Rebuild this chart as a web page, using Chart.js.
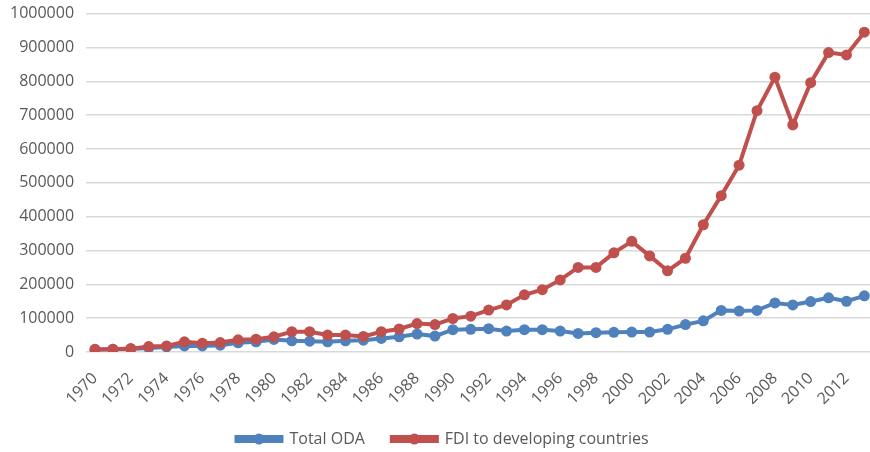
<!DOCTYPE html>
<html>
<head>
<meta charset="utf-8">
<script src="https://cdn.jsdelivr.net/npm/chart.js@4"></script>
<style>
  html, body { margin: 0; padding: 0; background: #fff; overflow: hidden; }
  #wrap { width: 889px; height: 465px; margin-left: -2px; margin-top: -8px; }
</style>
</head>
<body>
<div id="wrap"><canvas id="fdiChart"></canvas></div>
<script>
var years = ['1970','1971','1972','1973','1974','1975','1976','1977','1978','1979',
             '1980','1981','1982','1983','1984','1985','1986','1987','1988','1989',
             '1990','1991','1992','1993','1994','1995','1996','1997','1998','1999',
             '2000','2001','2002','2003','2004','2005','2006','2007','2008','2009',
             '2010','2011','2012','2013'];

var totalOda = [7000, 8000, 9000, 12000, 15000, 18000, 18000, 20000, 27000, 30000,
                37000, 33000, 32000, 30000, 33000, 35000, 40000, 45000, 53000, 47000,
                66000, 67000, 69000, 62000, 66000, 66000, 62000, 55000, 57000, 58000,
                59000, 59000, 67000, 81000, 92000, 123000, 121000, 123000, 145000, 139000,
                149000, 160000, 150000, 166000];

var fdi = [8000, 8000, 10000, 16000, 18000, 30000, 26000, 28000, 36000, 38000,
           45000, 60000, 60000, 50000, 50000, 46000, 60000, 68000, 84000, 81000,
           99000, 106000, 124000, 139000, 169000, 184000, 213000, 250000, 250000, 293000,
           327000, 284000, 240000, 277000, 376000, 462000, 552000, 713000, 812000, 671000,
           796000, 885000, 878000, 945000];

const colors = {
    oda: '#4F81BD',
    fdi: '#C0504D'
};

var textColor = '#595959';
var fontFamily = "'Open Sans', 'Liberation Sans', sans-serif";

// legend markers in Excel style: a line with a dot in the middle
var legendDots = {
    id: 'legendDots',
    afterDraw: function(chart) {
        var legend = chart.legend;
        if (!legend || !legend.legendHitBoxes) return;
        var c = chart.ctx;
        legend.legendHitBoxes.forEach(function(box, i) {
            var item = legend.legendItems[i];
            c.save();
            c.fillStyle = item.fillStyle;
            c.beginPath();
            c.arc(box.left + 22.5, box.top + box.height / 2, 5.5, 0, Math.PI * 2);
            c.fill();
            c.restore();
        });
    }
};

var ctx = document.getElementById('fdiChart').getContext('2d');

new Chart(ctx, {
    type: 'line',
    data: {
        labels: years,
        datasets: [
            {
                label: 'Total ODA',
                data: totalOda,
                borderColor: colors.oda,
                backgroundColor: colors.oda,
                borderWidth: 4,
                pointRadius: 5.5,
                pointBorderWidth: 0,
                pointBackgroundColor: colors.oda,
                order: 1
            },
            {
                label: 'FDI to developing countries',
                data: fdi,
                borderColor: colors.fdi,
                backgroundColor: colors.fdi,
                borderWidth: 4,
                pointRadius: 5.5,
                pointBorderWidth: 0,
                pointBackgroundColor: colors.fdi,
                order: 0
            }
        ]
    },
    options: {
        responsive: true,
        maintainAspectRatio: false,
        animation: false,
        layout: {
            padding: 0
        },
        plugins: {
            legend: {
                position: 'bottom',
                labels: {
                    boxWidth: 45,
                    boxHeight: 4,
                    padding: 27,
                    color: textColor,
                    font: { family: fontFamily, size: 16 },
                    sort: function(a, b) { return a.datasetIndex - b.datasetIndex; }
                }
            },
            tooltip: { enabled: false }
        },
        scales: {
            x: {
                offset: true,
                grid: { display: false },
                border: { display: false },
                // the rotated label estimate is too tall, keep the axis compact
                afterFit: function(scale) { scale.height = 52; },
                ticks: {
                    autoSkip: false,
                    maxRotation: 45,
                    minRotation: 45,
                    padding: 9,
                    color: textColor,
                    font: { family: fontFamily, size: 16 },
                    callback: function(value, index) {
                        return index % 2 === 0 ? this.getLabelForValue(value) : '';
                    }
                }
            },
            y: {
                min: 0,
                max: 1000000,
                border: { display: false },
                grid: { color: '#d9d9d9', lineWidth: 1.5, drawTicks: false },
                ticks: {
                    stepSize: 100000,
                    padding: 12,
                    color: textColor,
                    font: { family: fontFamily, size: 16 },
                    callback: function(value) { return value; }
                }
            }
        }
    },
    plugins: [legendDots]
});
</script>
</body>
</html>
